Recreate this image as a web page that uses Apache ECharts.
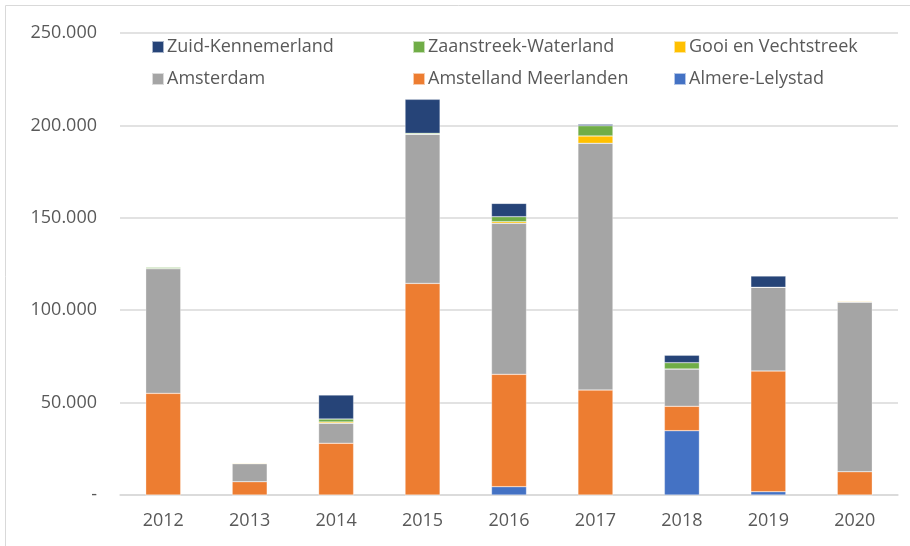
<!DOCTYPE html>
<html><head><meta charset="utf-8">
<script src="https://cdn.jsdelivr.net/npm/echarts@6/dist/echarts.min.js"></script>
<style>html,body{margin:0;padding:0;background:#fff}#c{width:910px;height:546px}</style>
</head><body><div id="c"></div>
<script>
const years = ['2012','2013','2014','2015','2016','2017','2018','2019','2020'];
const almereLelystad      = [0, 0, 0, 0, 4500, 0, 34800, 1800, 0];
const amstellandMeerlanden = [55000, 7200, 28000, 114500, 60800, 56800, 13200, 65300, 12600];
const amsterdam           = [67500, 9700, 10800, 80700, 81700, 133500, 20200, 45300, 91700];
const gooiVechtstreek     = [0, 400, 700, 0, 900, 4000, 0, 0, 500];
const zaanstreekWaterland = [800, 0, 1600, 500, 2700, 5500, 3400, 0, 0];
const zuidKennemerland    = [0, 0, 13000, 18400, 7200, 800, 4000, 6100, 0];
const yTicks = [0, 50000, 100000, 150000, 200000, 250000];

const seriesDefs = [
  ['Almere-Lelystad', almereLelystad, '#4472C4'],
  ['Amstelland Meerlanden', amstellandMeerlanden, '#ED7D31'],
  ['Amsterdam', amsterdam, '#A5A5A5'],
  ['Gooi en Vechtstreek', gooiVechtstreek, '#FFC000'],
  ['Zaanstreek-Waterland', zaanstreekWaterland, '#70AD47'],
  ['Zuid-Kennemerland', zuidKennemerland, '#264478']
];
const font = 'Open Sans, sans-serif';
const legendPos = {
  'Zuid-Kennemerland':[146,33], 'Zaanstreek-Waterland':[407,33], 'Gooi en Vechtstreek':[668,33],
  'Amsterdam':[146,65], 'Amstelland Meerlanden':[407,65], 'Almere-Lelystad':[668,65]
};
const legends = Object.keys(legendPos).map(n => ({
  data:[n], left:legendPos[n][0], top:legendPos[n][1], itemWidth:12, itemHeight:12, itemGap:0,
  icon:'rect', textStyle:{fontFamily:font, fontSize:18, color:'#595959', padding:[0,0,0,-2]},
  selectedMode:false
}));
function fmt(v){ if(v===0) return '-'; return String(v).replace(/\B(?=(\d{3})+(?!\d))/g,'.'); }
const chart = echarts.init(document.getElementById('c'));
chart.setOption({
  animation:false,
  graphic:[{type:'rect', shape:{x:5.5,y:5.5,width:920,height:560}, style:{fill:'none', stroke:'#d9d9d9', lineWidth:1}}],
  legend: legends,
  grid:{left:120, right:12, top:33, bottom:51},
  xAxis:{type:'category', data:years, axisTick:{show:false},
    axisLine:{lineStyle:{color:'#d9d9d9', width:1.5}},
    axisLabel:{fontFamily:font, fontSize:18, color:'#595959', margin:17}},
  yAxis:{type:'value', min:yTicks[0], max:yTicks[yTicks.length-1], interval:yTicks[1]-yTicks[0],
    axisLine:{show:false}, axisTick:{show:false},
    splitLine:{lineStyle:{color:'#d9d9d9', width:1.5}},
    axisLabel:{fontFamily:font, fontSize:18, color:'#595959', margin:23, formatter:fmt}},
  series: seriesDefs.map(([name,data,color]) => ({
    name, type:'bar', stack:'t', data, barWidth:35,
    itemStyle:{color, borderColor:'rgba(255,255,255,0.6)', borderWidth:0.5}
  }))
});
</script></body></html>
